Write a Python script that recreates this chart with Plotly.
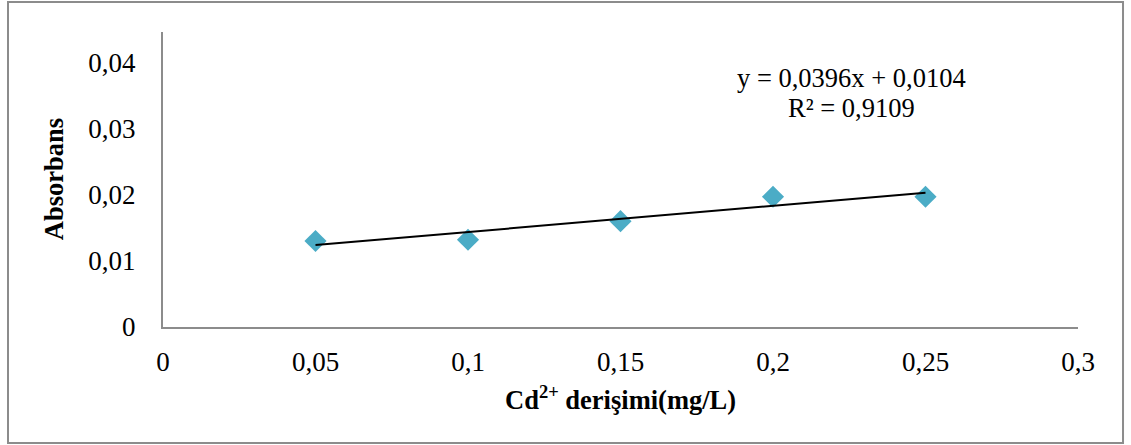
import plotly.graph_objects as go

concentration = [0.05, 0.10, 0.15, 0.20, 0.25]
absorbance = [0.0130, 0.0132, 0.0160, 0.0197, 0.0197]
slope = 0.0396
intercept = 0.0104
r_squared = 0.9109

x_tickvals = [0, 0.05, 0.1, 0.15, 0.2, 0.25, 0.3]
x_ticktext = ["0", "0,05", "0,1", "0,15", "0,2", "0,25", "0,3"]
y_tickvals = [0, 0.01, 0.02, 0.03, 0.04]
y_ticktext = ["0", "0,01", "0,02", "0,03", "0,04"]

fit_x = [concentration[0], concentration[-1]]
fit_y = [slope * v + intercept for v in fit_x]

font_family = "Liberation Serif, Times New Roman, serif"

def comma(v):
    return str(v).replace(".", ",")

fig = go.Figure()
fig.add_trace(go.Scatter(
    x=concentration, y=absorbance, mode="markers",
    marker=dict(symbol="diamond", size=17, color="#4BACC6"),
    showlegend=False, hoverinfo="skip"))
fig.add_trace(go.Scatter(
    x=fit_x, y=fit_y, mode="lines",
    line=dict(color="black", width=2),
    showlegend=False, hoverinfo="skip"))

fig.update_layout(
    width=1131, height=445,
    margin=dict(l=163, r=53, t=32, b=118),
    paper_bgcolor="white", plot_bgcolor="white",
    font=dict(family=font_family, size=27, color="black"),
    xaxis=dict(range=[0, 0.3], tickvals=x_tickvals, ticktext=x_ticktext,
               showgrid=False, zeroline=False, showline=True,
               linecolor="#8c8c8c", linewidth=2,
               ticks="outside", ticklen=10, tickcolor="rgba(0,0,0,0)"),
    yaxis=dict(range=[0, 0.0446], tickvals=y_tickvals, ticktext=y_ticktext,
               showgrid=False, zeroline=False, showline=True,
               linecolor="#8c8c8c", linewidth=2,
               ticks="outside", ticklen=20, tickcolor="rgba(0,0,0,0)"),
    shapes=[dict(type="rect", xref="paper", yref="paper",
                 x0=-0.1694, x1=1.0492, y0=-0.3932, y1=1.1017,
                 line=dict(color="#8c8c8c", width=2), fillcolor="rgba(0,0,0,0)")],
    annotations=[
        dict(text="<b>Absorbans</b>", xref="paper", yref="paper",
             x=-0.1195, y=0.5, textangle=-90, showarrow=False,
             font=dict(size=26.5), xanchor="center", yanchor="middle"),
        dict(text="<b>Cd<sup>2+</sup> derişimi(mg/L)</b>", xref="paper", yref="paper",
             x=0.5, y=-0.24, showarrow=False, font=dict(size=26.5),
             xanchor="center", yanchor="middle"),
        dict(text=f"y = {comma(slope)}x + {comma(intercept)}",
             xref="paper", yref="paper", x=0.753, y=0.844, showarrow=False,
             font=dict(size=26.5), xanchor="center", yanchor="middle"),
        dict(text=f"R² = {comma(r_squared)}",
             xref="paper", yref="paper", x=0.753, y=0.742, showarrow=False,
             font=dict(size=26.5), xanchor="center", yanchor="middle"),
    ],
)

fig.write_html("out.html")
